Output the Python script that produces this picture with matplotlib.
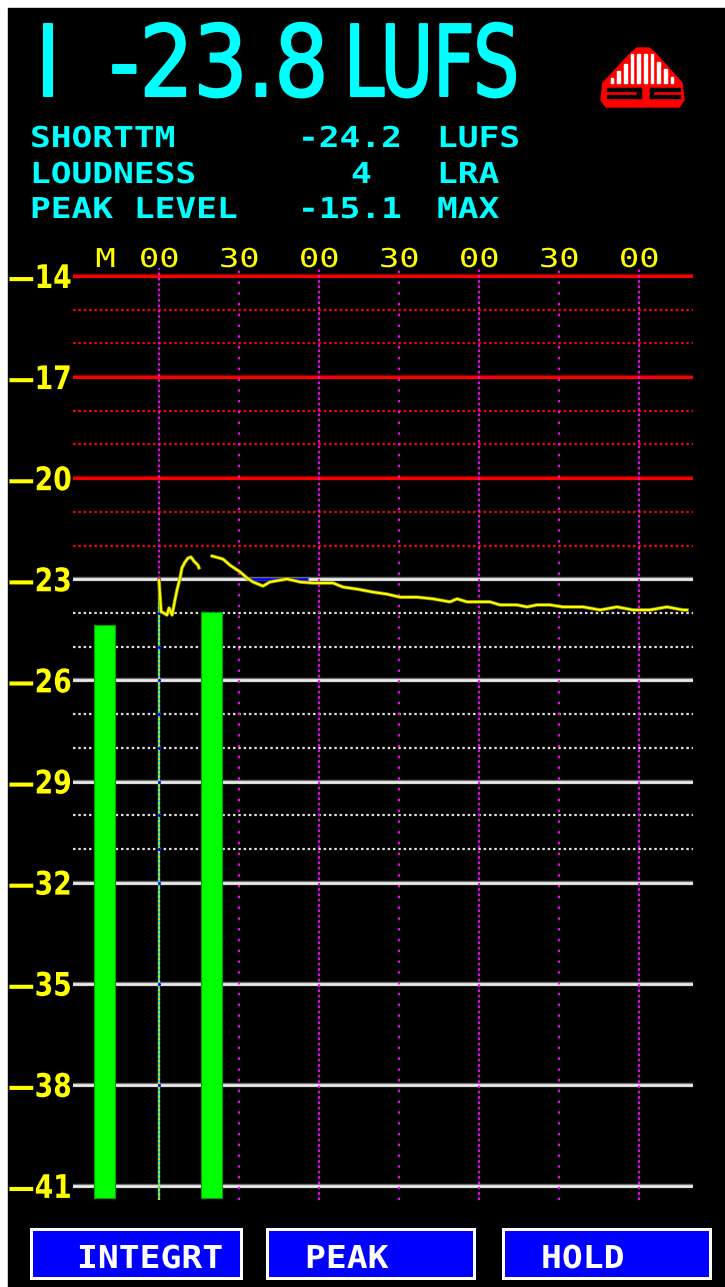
import numpy as np
import matplotlib
matplotlib.use("Agg")
import matplotlib.pyplot as plt
from matplotlib import patheffects
from matplotlib.patches import Rectangle, Polygon
from matplotlib.transforms import Affine2D

# meter readout
integrated = -23.8
short_term = -24.2
loudness_range = 4
peak_level = -15.1

# loudness history: seconds since start / LUFS (nan = gap in trace)
hist_t = [0, 0.8, 1.1, 3.0, 3.75, 4.9, 6.0, 6.75, 7.9, 8.6,
          9.75, 10.9, 12.0, 13.1, 14.6, 15.0, 17.0, 19.9, 24.0, 26.6,
          30.4, 33.0, 35.25, 39.0, 41.6, 48.0, 52.9, 57.75, 65.25, 69.0,
          74.25, 80.25, 85.5, 90.4, 96.75, 102.75, 109.1, 111.75, 115.5, 124.1,
          127.9, 134.25, 138.0, 141.75, 146.6, 151.5, 159.0, 165.4, 171.75, 177.75,
          184.1, 190.5, 196.5, 198.0]
hist_v = [-23.02, -23.97, -23.97, -24.06, -23.85, -24.06, -23.61, -23.32, -22.96, -22.66,
          -22.49, -22.37, -22.34, -22.46, -22.58, -22.66, np.nan, -22.31, -22.40, -22.58,
          -22.78, -22.96, -23.08, -23.20, -23.08, -22.99, -23.08, -23.11, -23.11, -23.23,
          -23.29, -23.38, -23.44, -23.53, -23.53, -23.58, -23.67, -23.58, -23.67, -23.67,
          -23.76, -23.76, -23.82, -23.76, -23.76, -23.82, -23.82, -23.91, -23.82, -23.91,
          -23.91, -23.82, -23.91, -23.91]

# momentary / short-term bars
bar_t = [-20.4, 19.7]
bar_top = [-24.36, -23.97]
bar_floor = -41.36

major_db = [-14, -17, -20, -23, -26, -29, -32, -35, -38, -41]
minor_db = [-15, -16, -18, -19, -21, -22, -24, -25, -27, -28, -30, -31]
time_ticks = [0, 30, 60, 90, 120, 150, 180]
time_labels = ["00", "30", "00", "30", "00", "30", "00"]
top_pos = [-20.1] + time_ticks
top_labels = ["M"] + time_labels

CYAN = "#00FFFF"
YELLOW = "#FFFF00"
W, H = 725, 1287


class Squeeze(patheffects.AbstractPathEffect):
    """Scale glyph outlines so DejaVu looks like the meter's narrow bitmap font."""

    def __init__(self, sx=1.0, sy=1.0, center=False, bold=0.0):
        super().__init__()
        self.sx, self.sy, self.center, self.bold = sx, sy, center, bold

    def draw_path(self, renderer, gc, tpath, affine, rgbFace=None):
        cx = 0.0
        if self.center and len(tpath.vertices):
            cx = (tpath.vertices[:, 0].min() + tpath.vertices[:, 0].max()) / 2
        tr = Affine2D().translate(-cx, 0).scale(self.sx, self.sy).translate(cx, 0)
        gc0 = renderer.new_gc()
        gc0.copy_properties(gc)
        if self.bold and rgbFace is not None:
            gc0.set_linewidth(self.bold)
            gc0.set_foreground(rgbFace)
        renderer.draw_path(gc0, tpath, tr + affine, rgbFace)
        gc0.restore()


fig = plt.figure(figsize=(W / 100, H / 100), dpi=100, facecolor="white")

# screen background + readout, in pixel units
bg = fig.add_axes([0, 0, 1, 1])
bg.set_xlim(0, W)
bg.set_ylim(H, 0)
bg.axis("off")
bg.add_patch(Rectangle((8, 8), W - 8, H - 8, color="black"))

bg.text(35, 96, "I", color=CYAN, fontsize=71, path_effects=[Squeeze(0.9, bold=1.5)])
bg.text(109, 96, f"{integrated:.1f}", color=CYAN, fontsize=71, path_effects=[Squeeze(0.86, bold=1.5)])
bg.text(344, 96, "LUFS", color=CYAN, fontsize=71, path_effects=[Squeeze(0.73, bold=1.5)])

rows = [("SHORTTM", f"{short_term:.1f}", "LUFS", 298),
        ("LOUDNESS", f"{loudness_range}", "LRA", 351),
        ("PEAK LEVEL", f"{peak_level:.1f}", "MAX", 298)]
for (name, val, unit, vx), base in zip(rows, [147, 183, 218]):
    for x, s in [(30, name), (vx, val), (437, unit)]:
        bg.text(x, base, s, color=CYAN, fontsize=20.7, family="DejaVu Sans Mono",
                fontweight="bold", path_effects=[Squeeze(1.2)])

# logo
bg.add_patch(Polygon([(637, 48), (649, 48), (655, 53), (682, 83), (684, 100), (679, 107),
                      (606, 107), (601, 100), (603, 83), (631, 53)], closed=True, color="#FF0000"))
for bx in np.linspace(612, 672, 10):
    if bx < 631:
        top = 53 + (631 - bx) * 30 / 28 + 5
    elif bx > 655:
        top = 53 + (bx - 655) * 30 / 27 + 5
    else:
        top = 54
    bg.add_patch(Rectangle((bx - 1.2, top), 2.4, 83 - top, color="white"))
for x0, x1 in [(607, 641), (650, 680)]:
    bg.add_patch(Rectangle((x0, 87.5), x1 - x0, 3, color="black"))
    bg.add_patch(Rectangle((x0, 95), x1 - x0, 3, color="black"))
bg.add_patch(Rectangle((637.5, 87.5), 3.5, 10.5, color="black"))
bg.add_patch(Rectangle((650, 87.5), 3.5, 10.5, color="black"))

# soft buttons
for (x0, x1), label, tx in zip([(30, 243), (266, 476), (502, 712)],
                               ["INTEGRT", "PEAK", "HOLD"], [77, 305, 541]):
    bg.add_patch(Rectangle((x0, 1228), x1 - x0, 52, fc="white", ec="none"))
    bg.add_patch(Rectangle((x0 + 3, 1231), x1 - x0 - 6, 46, fc="#0000FF", ec="none"))
    bg.text(tx, 1268, label, color="white", fontsize=22.7, family="DejaVu Sans Mono",
            fontweight="bold", path_effects=[Squeeze(1.1)])

# loudness graph
ax = fig.add_axes([73 / W, 1 - 1200 / H, 620 / W, (1200 - 268) / H])
ax.set_facecolor("none")
ax.set_xlim(-32.25, 200.25)
ax.set_ylim(-41.418, -13.763)
for s in ax.spines.values():
    s.set_visible(False)
y_lo, y_hi = ax.get_ylim()

for db in major_db:
    red = db >= -20
    ax.axhline(db, color="#FF0000" if red else "#E8E8E8", lw=2.0, zorder=2,
               path_effects=[patheffects.Stroke(linewidth=3.2, foreground="#800000" if red else "#6A6A6A"),
                             patheffects.Normal()])
for db in minor_db:
    ax.axhline(db, color="#FF0000" if db > -23 else "#E0E0E0", lw=1.6,
               ls=(0, (1.1, 1.3)), zorder=2)

for t, lab in zip(time_ticks, time_labels):
    ls = (0, (1.1, 1.3)) if lab == "00" else (0, (1.1, 3.75))
    top_from = -23 if t == 0 else y_lo
    ax.vlines(t, top_from, y_hi, color="#FF00FF", lw=1.6, ls=ls, zorder=3)

# trace of the integrated start marker
ax.vlines(0, y_lo, -23, color="#00E0E0", lw=1.6, zorder=3)
ax.vlines(0, y_lo, -23, color="#D8D800", lw=1.6, ls=(0, (1, 1)), zorder=3)
marks = [d for d in sorted(major_db + minor_db) if -39 < d <= -23]
ax.scatter(np.zeros(len(marks)), marks, s=5, color="#0000FF", zorder=4, linewidths=0)

ax.bar(bar_t, np.array(bar_top) - bar_floor, bottom=bar_floor, width=7.9,
       color="#00FF00", edgecolor="#00A000", lw=0.8, zorder=3)

ax.hlines(-23, 34, 56, color="#0000FF", lw=2.0, zorder=4)
ax.plot(hist_t, hist_v, color=YELLOW, lw=1.5, zorder=5,
        path_effects=[patheffects.Stroke(linewidth=2.6, foreground="#8A8A00"), patheffects.Normal()])

ax.set_yticks(major_db, labels=[f"\u2014{-d}" for d in major_db])
ax.tick_params(axis="y", left=False, length=0, pad=46.8, labelsize=23.4, labelcolor=YELLOW)
for lab in ax.get_yticklabels():
    lab.set_ha("left")
    lab.set_fontweight("bold")
    lab.set_path_effects([Squeeze(0.82)])

ax.set_xticks(top_pos, labels=top_labels)
ax.tick_params(axis="x", bottom=False, labelbottom=False, top=False, labeltop=True,
               length=0, pad=-3.6, labelsize=18.7, labelcolor=YELLOW)
for lab in ax.get_xticklabels():
    lab.set_family("DejaVu Sans Mono")
    lab.set_path_effects([Squeeze(1.3, 1.0, center=True)])

fig.savefig("out.png", dpi=100, facecolor=fig.get_facecolor())
